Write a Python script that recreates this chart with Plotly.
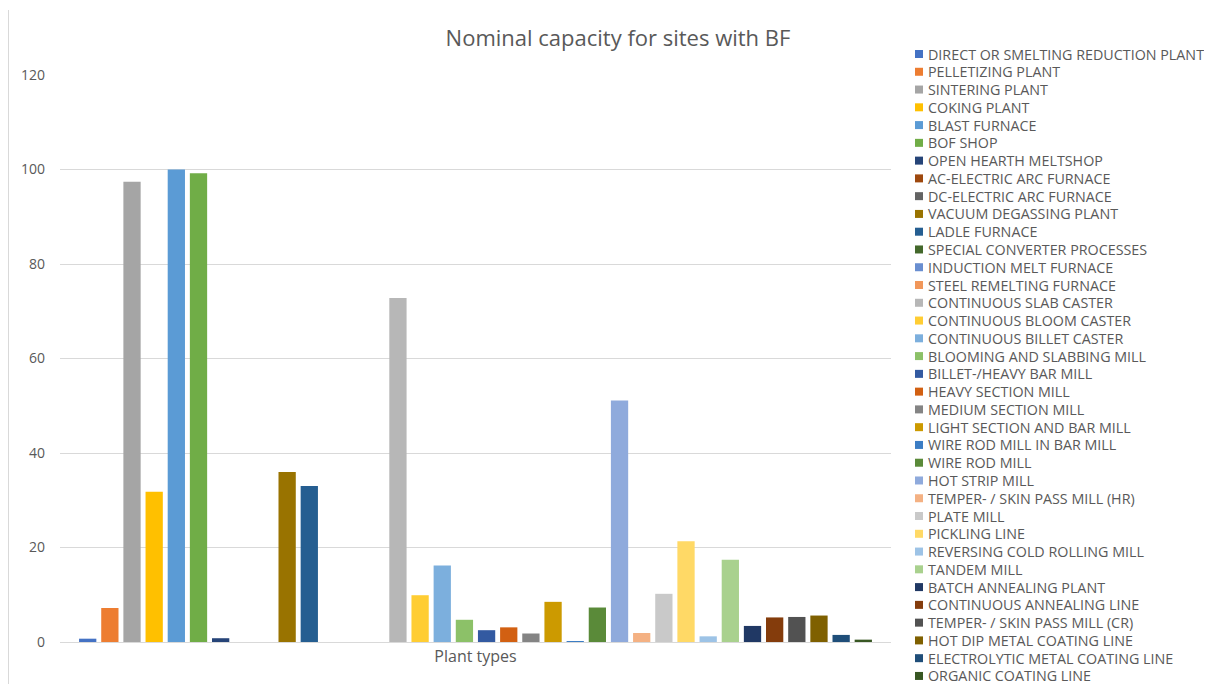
import plotly.graph_objects as go

category = ["Plant types"]

series_names = [
    "DIRECT OR SMELTING REDUCTION PLANT", "PELLETIZING PLANT", "SINTERING PLANT",
    "COKING PLANT", "BLAST FURNACE", "BOF SHOP", "OPEN HEARTH MELTSHOP",
    "AC-ELECTRIC ARC FURNACE", "DC-ELECTRIC ARC FURNACE", "VACUUM DEGASSING PLANT",
    "LADLE FURNACE", "SPECIAL CONVERTER PROCESSES", "INDUCTION MELT FURNACE",
    "STEEL REMELTING FURNACE", "CONTINUOUS SLAB CASTER", "CONTINUOUS BLOOM CASTER",
    "CONTINUOUS BILLET CASTER", "BLOOMING AND SLABBING MILL", "BILLET-/HEAVY BAR MILL",
    "HEAVY SECTION MILL", "MEDIUM SECTION MILL", "LIGHT SECTION AND BAR MILL",
    "WIRE ROD MILL IN BAR MILL", "WIRE ROD MILL", "HOT STRIP MILL",
    "TEMPER- / SKIN PASS MILL (HR)", "PLATE MILL", "PICKLING LINE",
    "REVERSING COLD ROLLING MILL", "TANDEM MILL", "BATCH ANNEALING PLANT",
    "CONTINUOUS ANNEALING LINE", "TEMPER- / SKIN PASS MILL (CR)",
    "HOT DIP METAL COATING LINE", "ELECTROLYTIC METAL COATING LINE", "ORGANIC COATING LINE",
]

series_values = [
    0.7, 7.2, 97.4, 31.8, 100.0, 99.2, 0.8,
    0.0, 0.0, 36.0, 33.0, 0.0, 0.0, 0.0,
    72.8, 9.9, 16.2, 4.7, 2.5, 3.1, 1.8, 8.5,
    0.2, 7.3, 51.1, 1.9, 10.2, 21.3, 1.2, 17.4,
    3.4, 5.2, 5.3, 5.6, 1.5, 0.5,
]

series_colors = [
    "#4472C4", "#ED7D31", "#A5A5A5", "#FFC000", "#5B9BD5", "#70AD47",
    "#264478", "#9E480E", "#636363", "#997300", "#255E91", "#43682B",
    "#698ED0", "#F1975A", "#B7B7B7", "#FFCD33", "#7CAFDD", "#8CC168",
    "#335AA1", "#D26012", "#848484", "#CC9A00", "#3C7DC4", "#5A8A39",
    "#8FAADC", "#F4B183", "#C9C9C9", "#FFD966", "#9DC3E6", "#A9D18E",
    "#203864", "#843C0C", "#525252", "#7F6000", "#1F4E79", "#385723",
]

y_ticks = [0, 20, 40, 60, 80, 100, 120]
title_text = "Nominal capacity for sites with BF"

# ---- layout constants (reference-window pixels) ----
OFF = 8                      # page body margin of the browser
WIN_W, WIN_H = 1212, 684
W, H = WIN_W - OFF, WIN_H - OFF
PL, PR, PT, PB = 60, 891, 75, 642   # plot area in window pixels
TEXT = "#595959"
GRID = "#D9D9D9"
FONT = "Open Sans"

fig = go.Figure()
for name, val, col in zip(series_names, series_values, series_colors):
    fig.add_trace(go.Bar(
        x=category, y=[val], name=name,
        marker=dict(color=col, line=dict(width=0)),
        showlegend=False,
    ))

pw = PR - PL
ph = PB - PT


def px_x(px):
    return (px - PL) / pw


def px_y(py):
    return (PB - py) / ph


shapes = []
annotations = []

# custom legend (Excel-like, compact spacing)
leg_top, leg_step = 54.0, 17.77
for i, (name, col) in enumerate(zip(series_names, series_colors)):
    cy = leg_top + i * leg_step
    shapes.append(dict(
        type="rect", xref="paper", yref="paper",
        x0=px_x(915), x1=px_x(923), y0=px_y(cy + 4), y1=px_y(cy - 4),
        fillcolor=col, line=dict(width=0),
    ))
    annotations.append(dict(
        text=name, xref="paper", yref="paper",
        x=px_x(926), y=px_y(cy), xanchor="left", yanchor="middle",
        showarrow=False, font=dict(family=FONT, size=14.3, color=TEXT),
    ))

# faint chart-area border line on the left
shapes.append(dict(
    type="line", xref="paper", yref="paper",
    x0=px_x(OFF + 0.5), x1=px_x(OFF + 0.5), y0=px_y(WIN_H), y1=px_y(10),
    line=dict(color=GRID, width=1),
))

fig.update_layout(
    width=W, height=H,
    margin=dict(l=PL - OFF, r=WIN_W - PR, t=PT - OFF, b=WIN_H - PB, pad=0),
    paper_bgcolor="white", plot_bgcolor="white",
    barmode="group", bargap=0.040, bargroupgap=0.22,
    title=dict(
        text=title_text, x=(618 - OFF) / W, xanchor="center",
        y=1 - (38 - OFF) / H, yanchor="middle",
        font=dict(family=FONT, size=22, color=TEXT),
    ),
    xaxis=dict(
        showline=True, linecolor=GRID, linewidth=1, ticks="",
        tickfont=dict(family=FONT, size=16, color=TEXT),
        showgrid=False,
    ),
    yaxis=dict(
        range=[0, 120], tickvals=y_ticks, showgrid=True, gridcolor=GRID,
        gridwidth=1, zeroline=False, showline=False, ticks="",
        tickfont=dict(family=FONT, size=14, color=TEXT), ticklabelstandoff=14,
    ),
    shapes=shapes,
    annotations=annotations,
    showlegend=False,
)

fig.write_html("out.html")
